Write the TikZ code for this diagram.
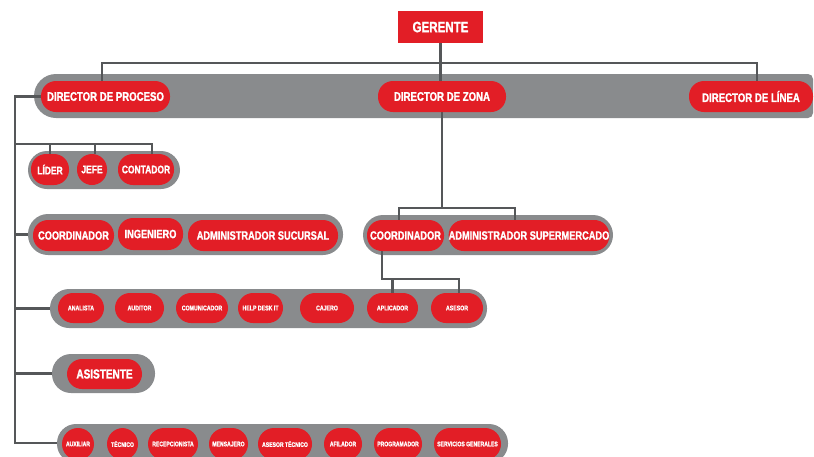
\documentclass[tikz,border=0pt]{standalone}
\usepackage{fontspec}
\newfontfamily\lblfont{Liberation Sans}[FakeStretch=0.77, BoldFeatures={FakeBold=1.3}]
\usetikzlibrary{calc}

\definecolor{pillred}{RGB}{226,30,38}
\definecolor{bandgray}{RGB}{137,139,141}
\definecolor{linkgray}{RGB}{85,87,89}

\pgfdeclarelayer{bands}
\pgfdeclarelayer{links}
\pgfsetlayers{bands,links,main}

\tikzset{
  pill/.style={fill=pillred, text=white, rounded corners=15pt, inner sep=0pt,
    minimum height=31pt, font=\lblfont\bfseries\fontsize{#1}{#1}\selectfont},
  pill/.default=12,
  band/.style={fill=bandgray, inner sep=0pt, rounded corners=19pt},
  link/.style={draw=linkgray, line width=2.8pt},
}

\begin{document}
\begin{tikzpicture}[x=1pt, y=-1pt]
\useasboundingbox (0,0) rectangle (814,456);

% ---------- head ----------
\node[pill=15, rounded corners=0pt, minimum width=85pt, minimum height=32pt] (ger) at (440.5,27) {GERENTE};

% ---------- directors ----------
\begin{pgfonlayer}{bands}
  \fill[bandgray, rounded corners=5pt] (400,74) -- (813,74) -- (813,118) -- (400,118)
        [rounded corners=22pt] -- (34,118) -- (34,74) -- cycle;
\end{pgfonlayer}
\node[pill=12.5, minimum width=129pt] (dp) at (105.5,96.5) {DIRECTOR DE PROCESO};
\node[pill=12.5, minimum width=128pt] (dz) at (442,96.5) {DIRECTOR DE ZONA};
\node[pill=12.5, minimum width=124pt] (dl) at (751,96.5) {DIRECTOR DE LÍNEA};

% ---------- bands ----------
\begin{pgfonlayer}{bands}
  \node[band, minimum width=152pt, minimum height=38pt] (b1) at (104,170) {};
  \node[band, rounded corners=20pt, minimum width=315pt, minimum height=41pt] (b3) at (185.5,234.5) {};
  \node[band, rounded corners=20pt, minimum width=250pt, minimum height=40pt] (bz) at (488,235) {};
  \node[band, minimum width=437pt, minimum height=39pt] (b4) at (268.5,308.5) {};
  \node[band, minimum width=103pt, minimum height=39pt] (b5) at (103.5,373.5) {};
  \node[band, minimum width=451pt, minimum height=39pt] (b6) at (282.5,443.5) {};
\end{pgfonlayer}

% ---------- row: lider / jefe / contador ----------
\node[pill=11, minimum width=38pt] (lider) at (50,169.5) {LÍDER};
\node[pill=11, minimum width=30pt] (jefe) at (92,169.5) {JEFE};
\node[pill=11, minimum width=56pt] (conta) at (146,169.5) {CONTADOR};

% ---------- row: coordinador / ingeniero / administrador ----------
\node[pill=12, minimum width=81pt] (coord) at (73.5,235.5) {COORDINADOR};
\node[pill=12, minimum width=65pt, minimum height=32pt] (inge) at (150.5,234) {INGENIERO};
\node[pill=12, minimum width=150pt] (admsuc) at (263,235.5) {ADMINISTRADOR SUCURSAL};

% ---------- zone group ----------
\node[pill=12, minimum width=77pt] (zc) at (405.5,235.5) {COORDINADOR};
\node[pill=12, minimum width=160pt] (asup) at (529,235.5) {ADMINISTRADOR SUPERMERCADO};

% ---------- row: small roles ----------
\tikzset{small/.style={pill=6.8, minimum height=30pt}}
\node[small, minimum width=46pt] (ana)  at (81,308)    {ANALISTA};
\node[small, minimum width=49pt] (aud)  at (139.5,308) {AUDITOR};
\node[small, minimum width=52pt] (com)  at (202,308)   {COMUNICADOR};
\node[small, minimum width=45pt] (help) at (260.5,308) {HELP DESK IT};
\node[small, minimum width=54pt] (caj)  at (327,308)   {CAJERO};
\node[small, minimum width=51pt] (apl)  at (392.5,308) {APLICADOR};
\node[small, minimum width=52pt] (ase)  at (457,308)   {ASESOR};

% ---------- assistant ----------
\node[pill=13, minimum width=75pt, minimum height=30pt] (asis) at (104.5,374) {ASISTENTE};

% ---------- bottom row ----------
\tikzset{tiny/.style={pill=6.6, minimum height=32pt, rounded corners=16pt}}
\node[tiny, minimum width=32pt] (aux)   at (78,444)    {AUXILIAR};
\node[tiny, minimum width=31pt] (tec)   at (122.5,444) {TÉCNICO};
\node[tiny, minimum width=50pt] (rec)   at (173,444)   {RECEPCIONISTA};
\node[tiny, minimum width=39pt] (men)   at (228.5,444) {MENSAJERO};
\node[tiny, minimum width=54pt] (asest) at (285,444)   {ASESOR TÉCNICO};
\node[tiny, minimum width=38pt] (afi)   at (343,444)   {AFILADOR};
\node[tiny, minimum width=48pt] (prog)  at (398,444)   {PROGRAMADOR};
\node[tiny, minimum width=67pt] (serv)  at (467.5,444) {SERVICIOS GENERALES};

% ---------- connectors ----------
\begin{pgfonlayer}{links}
  \coordinate (topbus) at (440,63);
  \draw[link] (ger.south) -- (ger.south |- dz.north);
  \draw[link] ([xshift=-3.5pt]dp.north) |- (topbus) -| ([xshift=6pt]dl.north);

  % left spine
  \coordinate (spine) at (15,443);
  \draw[link] (dp.west) -| (spine) -- (spine -| b6.west);
  \draw[link] (spine |- b3.west) -- (b3.west);
  \draw[link] (spine |- b4.west) -- (b4.west);
  \draw[link] (spine |- b5.west) -- (b5.west);

  % lider / jefe / contador
  \coordinate (lidbus) at (15,144);
  \coordinate (jefetop) at ([xshift=3pt]jefe.north);
  \draw[link] (lidbus) -| ([xshift=6pt]conta.north);
  \draw[link] (lidbus -| lider.north) -- (lider.north);
  \draw[link] (lidbus -| jefetop) -- (jefetop);

  % zone branch
  \coordinate (zbus) at (442,208);
  \draw[link] (dz.south) -- (zbus);
  \draw[link] ([xshift=-6.5pt]zc.north) |- (zbus) -| ([xshift=-14pt]asup.north);

  % coordinador of zone
  \coordinate (cbus) at (382,279);
  \draw[link] ([xshift=-23.5pt]zc.south) -- (cbus) -| ([xshift=2pt]ase.north);
  \draw[link] (cbus -| apl.north) -- (apl.north);
\end{pgfonlayer}
\end{tikzpicture}
\end{document}
